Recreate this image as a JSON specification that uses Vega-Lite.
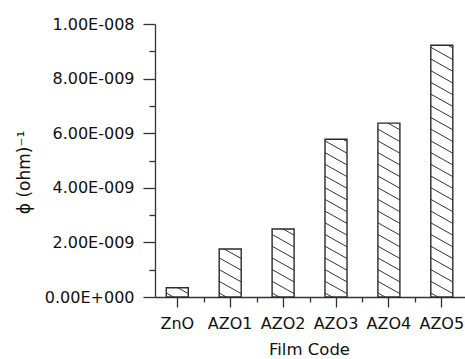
{
  "$schema": "https://vega.github.io/schema/vega-lite/v6.json",
  "width": 310,
  "height": 273,
  "autosize": {"type": "none"},
  "padding": {"left": 155, "top": 24, "right": 0, "bottom": 62},
  "background": "white",
  "config": {"view": {"stroke": null}, "font": "DejaVu Sans"},
  "data": {
    "values": [
      {"code": "ZnO", "phi": 3.4e-10},
      {"code": "AZO1", "phi": 1.76e-9},
      {"code": "AZO2", "phi": 2.49e-9},
      {"code": "AZO3", "phi": 5.78e-9},
      {"code": "AZO4", "phi": 6.37e-9},
      {"code": "AZO5", "phi": 9.22e-9}
    ]
  },
  "layer": [
    {
      "mark": {"type": "bar", "stroke": "#2b2b2b", "strokeWidth": 1.4},
      "encoding": {
        "x": {
          "field": "code", "type": "nominal", "sort": null,
          "scale": {"paddingInner": 0.5841, "paddingOuter": 0.222, "align": 0.481},
          "axis": {
            "orient": "bottom", "labelAngle": 0, "tickSize": 10, "labelPadding": 8,
            "labelFontSize": 16, "labelColor": "#111", "domainColor": "#333", "tickColor": "#333",
            "domainWidth": 1.3, "tickWidth": 1.3, "grid": false,
            "title": "Film Code", "titleFontSize": 16.5, "titleFontWeight": "normal", "titleColor": "#111",
            "titleX": 154, "titleY": 44, "titleBaseline": "top", "titleAlign": "center"
          }
        },
        "y": {
          "field": "phi", "type": "quantitative",
          "scale": {"domain": [0, 1e-8], "nice": false},
          "axis": {
            "orient": "left",
            "values": [0, 1e-9, 2e-9, 3e-9, 4e-9, 5e-9, 6e-9, 7e-9, 8e-9, 9e-9, 1e-8],
            "labelExpr": "datum.value === 0 ? '0.00E+000' : (round(datum.value*1e9) % 2 !== 0 ? '' : (datum.value > 9.9e-9 ? '1.00E-008' : format(datum.value*1e9, '.2f') + 'E-009'))",
            "tickSize": {"condition": {"test": "round(datum.value*1e9) % 2 === 0", "value": 12}, "value": 6},
            "labelPadding": 9, "labelFontSize": 16, "labelColor": "#111",
            "domainColor": "#333", "tickColor": "#333", "domainWidth": 1.3, "tickWidth": 1.3,
            "grid": false, "labelOverlap": false, "labelFlush": false,
            "title": "ϕ (ohm)⁻¹", "titleFontSize": 17, "titleFontWeight": "normal", "titleColor": "#111",
            "titleX": -131, "titleY": 148, "titleAngle": -90, "titleAlign": "center", "titleBaseline": "middle"
          }
        },
        "fill": {
          "condition": [
            {"test": "datum.code === 'ZnO'", "value": {"gradient": "linear", "x1": 0, "y1": 1, "x2": 13.983, "y2": -9.532, "stops": [
              {"offset": 0.01111, "color": "#fff"}, {"offset": 0.01481, "color": "#333"}, {"offset": 0.01852, "color": "#fff"},
              {"offset": 0.05444, "color": "#fff"}, {"offset": 0.05815, "color": "#333"}, {"offset": 0.06185, "color": "#fff"}
            ]}},
            {"test": "datum.code === 'AZO1'", "value": {"gradient": "linear", "x1": 0, "y1": 1, "x2": 1.3519, "y2": -4.2727, "stops": [
              {"offset": 0.01111, "color": "#fff"}, {"offset": 0.01481, "color": "#333"}, {"offset": 0.01852, "color": "#fff"},
              {"offset": 0.05444, "color": "#fff"}, {"offset": 0.05815, "color": "#333"}, {"offset": 0.06185, "color": "#fff"},
              {"offset": 0.09778, "color": "#fff"}, {"offset": 0.10148, "color": "#333"}, {"offset": 0.10519, "color": "#fff"},
              {"offset": 0.14111, "color": "#fff"}, {"offset": 0.14481, "color": "#333"}, {"offset": 0.14852, "color": "#fff"},
              {"offset": 0.18444, "color": "#fff"}, {"offset": 0.18815, "color": "#333"}, {"offset": 0.19185, "color": "#fff"}
            ]}},
            {"test": "datum.code === 'AZO2'", "value": {"gradient": "linear", "x1": 0, "y1": 1, "x2": 0.69692, "y2": -2.8455, "stops": [
              {"offset": 0.01111, "color": "#fff"}, {"offset": 0.01481, "color": "#333"}, {"offset": 0.01852, "color": "#fff"},
              {"offset": 0.05444, "color": "#fff"}, {"offset": 0.05815, "color": "#333"}, {"offset": 0.06185, "color": "#fff"},
              {"offset": 0.09778, "color": "#fff"}, {"offset": 0.10148, "color": "#333"}, {"offset": 0.10519, "color": "#fff"},
              {"offset": 0.14111, "color": "#fff"}, {"offset": 0.14481, "color": "#333"}, {"offset": 0.14852, "color": "#fff"},
              {"offset": 0.18444, "color": "#fff"}, {"offset": 0.18815, "color": "#333"}, {"offset": 0.19185, "color": "#fff"},
              {"offset": 0.22778, "color": "#fff"}, {"offset": 0.23148, "color": "#333"}, {"offset": 0.23519, "color": "#fff"},
              {"offset": 0.27111, "color": "#fff"}, {"offset": 0.27481, "color": "#333"}, {"offset": 0.27852, "color": "#fff"}
            ]}},
            {"test": "datum.code === 'AZO3'", "value": {"gradient": "linear", "x1": 0, "y1": 1, "x2": 0.13278, "y2": -0.7007, "stops": [
              {"offset": 0.01111, "color": "#fff"}, {"offset": 0.01481, "color": "#333"}, {"offset": 0.01852, "color": "#fff"},
              {"offset": 0.05444, "color": "#fff"}, {"offset": 0.05815, "color": "#333"}, {"offset": 0.06185, "color": "#fff"},
              {"offset": 0.09778, "color": "#fff"}, {"offset": 0.10148, "color": "#333"}, {"offset": 0.10519, "color": "#fff"},
              {"offset": 0.14111, "color": "#fff"}, {"offset": 0.14481, "color": "#333"}, {"offset": 0.14852, "color": "#fff"},
              {"offset": 0.18444, "color": "#fff"}, {"offset": 0.18815, "color": "#333"}, {"offset": 0.19185, "color": "#fff"},
              {"offset": 0.22778, "color": "#fff"}, {"offset": 0.23148, "color": "#333"}, {"offset": 0.23519, "color": "#fff"},
              {"offset": 0.27111, "color": "#fff"}, {"offset": 0.27481, "color": "#333"}, {"offset": 0.27852, "color": "#fff"},
              {"offset": 0.31444, "color": "#fff"}, {"offset": 0.31815, "color": "#333"}, {"offset": 0.32185, "color": "#fff"},
              {"offset": 0.35778, "color": "#fff"}, {"offset": 0.36148, "color": "#333"}, {"offset": 0.36519, "color": "#fff"},
              {"offset": 0.40111, "color": "#fff"}, {"offset": 0.40481, "color": "#333"}, {"offset": 0.40852, "color": "#fff"},
              {"offset": 0.44444, "color": "#fff"}, {"offset": 0.44815, "color": "#333"}, {"offset": 0.45185, "color": "#fff"},
              {"offset": 0.48778, "color": "#fff"}, {"offset": 0.49148, "color": "#333"}, {"offset": 0.49519, "color": "#fff"},
              {"offset": 0.53111, "color": "#fff"}, {"offset": 0.53481, "color": "#333"}, {"offset": 0.53852, "color": "#fff"},
              {"offset": 0.57444, "color": "#fff"}, {"offset": 0.57815, "color": "#333"}, {"offset": 0.58185, "color": "#fff"},
              {"offset": 0.61778, "color": "#fff"}, {"offset": 0.62148, "color": "#333"}, {"offset": 0.62519, "color": "#fff"}
            ]}},
            {"test": "datum.code === 'AZO4'", "value": {"gradient": "linear", "x1": 0, "y1": 1, "x2": 0.10945, "y2": -0.5449, "stops": [
              {"offset": 0.01111, "color": "#fff"}, {"offset": 0.01481, "color": "#333"}, {"offset": 0.01852, "color": "#fff"},
              {"offset": 0.05444, "color": "#fff"}, {"offset": 0.05815, "color": "#333"}, {"offset": 0.06185, "color": "#fff"},
              {"offset": 0.09778, "color": "#fff"}, {"offset": 0.10148, "color": "#333"}, {"offset": 0.10519, "color": "#fff"},
              {"offset": 0.14111, "color": "#fff"}, {"offset": 0.14481, "color": "#333"}, {"offset": 0.14852, "color": "#fff"},
              {"offset": 0.18444, "color": "#fff"}, {"offset": 0.18815, "color": "#333"}, {"offset": 0.19185, "color": "#fff"},
              {"offset": 0.22778, "color": "#fff"}, {"offset": 0.23148, "color": "#333"}, {"offset": 0.23519, "color": "#fff"},
              {"offset": 0.27111, "color": "#fff"}, {"offset": 0.27481, "color": "#333"}, {"offset": 0.27852, "color": "#fff"},
              {"offset": 0.31444, "color": "#fff"}, {"offset": 0.31815, "color": "#333"}, {"offset": 0.32185, "color": "#fff"},
              {"offset": 0.35778, "color": "#fff"}, {"offset": 0.36148, "color": "#333"}, {"offset": 0.36519, "color": "#fff"},
              {"offset": 0.40111, "color": "#fff"}, {"offset": 0.40481, "color": "#333"}, {"offset": 0.40852, "color": "#fff"},
              {"offset": 0.44444, "color": "#fff"}, {"offset": 0.44815, "color": "#333"}, {"offset": 0.45185, "color": "#fff"},
              {"offset": 0.48778, "color": "#fff"}, {"offset": 0.49148, "color": "#333"}, {"offset": 0.49519, "color": "#fff"},
              {"offset": 0.53111, "color": "#fff"}, {"offset": 0.53481, "color": "#333"}, {"offset": 0.53852, "color": "#fff"},
              {"offset": 0.57444, "color": "#fff"}, {"offset": 0.57815, "color": "#333"}, {"offset": 0.58185, "color": "#fff"},
              {"offset": 0.61778, "color": "#fff"}, {"offset": 0.62148, "color": "#333"}, {"offset": 0.62519, "color": "#fff"},
              {"offset": 0.66111, "color": "#fff"}, {"offset": 0.66481, "color": "#333"}, {"offset": 0.66852, "color": "#fff"}
            ]}},
            {"test": "datum.code === 'AZO5'", "value": {"gradient": "linear", "x1": 0, "y1": 1, "x2": 0.052382, "y2": -0.07016, "stops": [
              {"offset": 0.01111, "color": "#fff"}, {"offset": 0.01481, "color": "#333"}, {"offset": 0.01852, "color": "#fff"},
              {"offset": 0.05444, "color": "#fff"}, {"offset": 0.05815, "color": "#333"}, {"offset": 0.06185, "color": "#fff"},
              {"offset": 0.09778, "color": "#fff"}, {"offset": 0.10148, "color": "#333"}, {"offset": 0.10519, "color": "#fff"},
              {"offset": 0.14111, "color": "#fff"}, {"offset": 0.14481, "color": "#333"}, {"offset": 0.14852, "color": "#fff"},
              {"offset": 0.18444, "color": "#fff"}, {"offset": 0.18815, "color": "#333"}, {"offset": 0.19185, "color": "#fff"},
              {"offset": 0.22778, "color": "#fff"}, {"offset": 0.23148, "color": "#333"}, {"offset": 0.23519, "color": "#fff"},
              {"offset": 0.27111, "color": "#fff"}, {"offset": 0.27481, "color": "#333"}, {"offset": 0.27852, "color": "#fff"},
              {"offset": 0.31444, "color": "#fff"}, {"offset": 0.31815, "color": "#333"}, {"offset": 0.32185, "color": "#fff"},
              {"offset": 0.35778, "color": "#fff"}, {"offset": 0.36148, "color": "#333"}, {"offset": 0.36519, "color": "#fff"},
              {"offset": 0.40111, "color": "#fff"}, {"offset": 0.40481, "color": "#333"}, {"offset": 0.40852, "color": "#fff"},
              {"offset": 0.44444, "color": "#fff"}, {"offset": 0.44815, "color": "#333"}, {"offset": 0.45185, "color": "#fff"},
              {"offset": 0.48778, "color": "#fff"}, {"offset": 0.49148, "color": "#333"}, {"offset": 0.49519, "color": "#fff"},
              {"offset": 0.53111, "color": "#fff"}, {"offset": 0.53481, "color": "#333"}, {"offset": 0.53852, "color": "#fff"},
              {"offset": 0.57444, "color": "#fff"}, {"offset": 0.57815, "color": "#333"}, {"offset": 0.58185, "color": "#fff"},
              {"offset": 0.61778, "color": "#fff"}, {"offset": 0.62148, "color": "#333"}, {"offset": 0.62519, "color": "#fff"},
              {"offset": 0.66111, "color": "#fff"}, {"offset": 0.66481, "color": "#333"}, {"offset": 0.66852, "color": "#fff"},
              {"offset": 0.70444, "color": "#fff"}, {"offset": 0.70815, "color": "#333"}, {"offset": 0.71185, "color": "#fff"},
              {"offset": 0.74778, "color": "#fff"}, {"offset": 0.75148, "color": "#333"}, {"offset": 0.75519, "color": "#fff"},
              {"offset": 0.79111, "color": "#fff"}, {"offset": 0.79481, "color": "#333"}, {"offset": 0.79852, "color": "#fff"},
              {"offset": 0.83444, "color": "#fff"}, {"offset": 0.83815, "color": "#333"}, {"offset": 0.84185, "color": "#fff"},
              {"offset": 0.87778, "color": "#fff"}, {"offset": 0.88148, "color": "#333"}, {"offset": 0.88519, "color": "#fff"},
              {"offset": 0.92111, "color": "#fff"}, {"offset": 0.92481, "color": "#333"}, {"offset": 0.92852, "color": "#fff"},
              {"offset": 0.96444, "color": "#fff"}, {"offset": 0.96815, "color": "#333"}, {"offset": 0.97185, "color": "#fff"}
            ]}}
          ],
          "value": "white"
        }
      }
    },
    {
      "mark": {"type": "bar", "opacity": 0},
      "encoding": {
        "x": {
          "field": "code", "type": "nominal", "sort": null,
          "axis": {
            "orient": "bottom", "values": ["ZnO", "AZO1", "AZO2", "AZO3", "AZO4"],
            "tickOffset": 26.45, "tickSize": 5, "labels": false, "domain": false, "grid": false,
            "title": null, "tickColor": "#333", "tickWidth": 1.3
          }
        }
      }
    }
  ],
  "resolve": {"axis": {"x": "independent"}}
}
